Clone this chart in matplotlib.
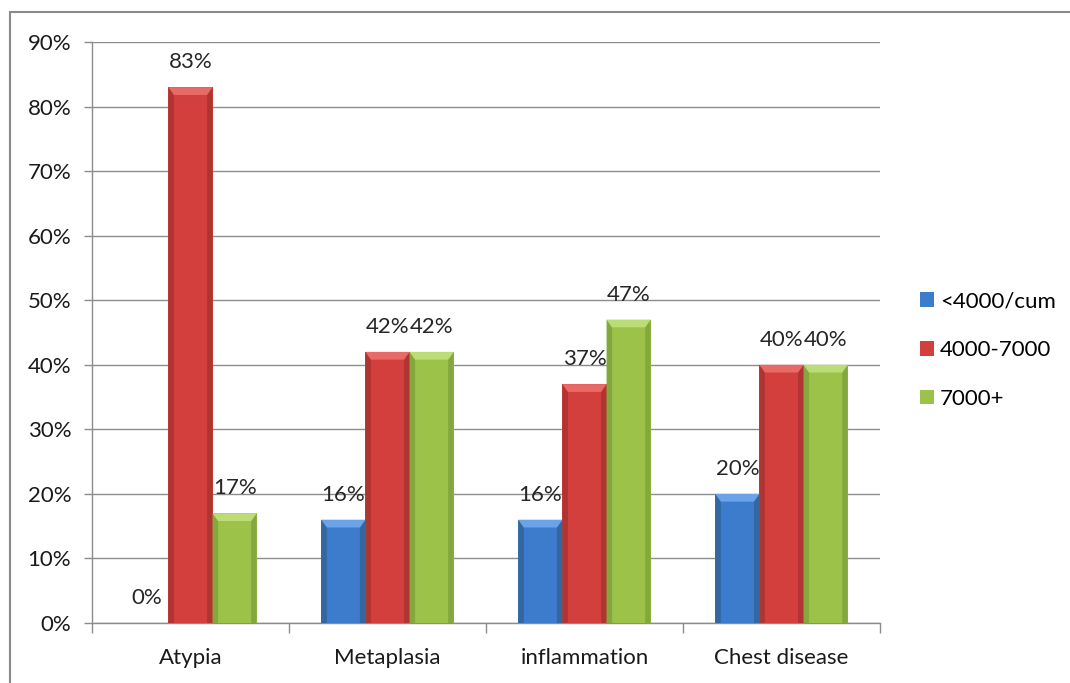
import numpy as np
import matplotlib.pyplot as plt
from matplotlib.patches import Polygon, Rectangle
from matplotlib.ticker import FixedLocator, FuncFormatter

############################################################
# Data: share of cases per count group for each finding (%)

categories = ['Atypia', 'Metaplasia', 'inflammation', 'Chest disease']
series_names = ['<4000/cum', '4000-7000', '7000+']
low_counts = [0, 16, 16, 20]
mid_counts = [83, 42, 37, 40]
high_counts = [17, 42, 47, 40]

############################################################
# Styling

plt.rcParams['font.family'] = ['Lato', 'DejaVu Sans']
face_colors = ['#3d7ccc', '#d23f3c', '#9cc24a']
side_colors = ['#33689f', '#b03532', '#84a83e']
top_colors = ['#6aa3e8', '#e86a66', '#bcdc78']
grid_col = '#8c8c8c'
fs = 16

fig = plt.figure(figsize=(10.7, 6.83), dpi=100)
ax = fig.add_axes([92 / 1070, 1 - 623 / 683, 788 / 1070, 581 / 683])

x = np.arange(len(categories))
width = 0.224
series = [low_counts, mid_counts, high_counts]

bx = 0.028  # bevel width in category units
by = 1.2    # bevel height in percent units

for i, vals in enumerate(series):
    pos = x + (i - 1) * width
    bars = ax.bar(pos, vals, width, color=face_colors[i], edgecolor='none',
                  label=series_names[i], zorder=3)
    for b, v in zip(bars, vals):
        x0 = b.get_x()
        w = b.get_width()
        h = b.get_height()
        if h > 0:
            # bevelled edges on each column
            ax.add_patch(Polygon([(x0, 0), (x0, h), (x0 + bx, h - by), (x0 + bx, 0)],
                                 closed=True, color=side_colors[i], lw=0, zorder=4))
            ax.add_patch(Polygon([(x0 + w, 0), (x0 + w, h), (x0 + w - bx, h - by), (x0 + w - bx, 0)],
                                 closed=True, color=side_colors[i], lw=0, zorder=4))
            ax.add_patch(Polygon([(x0, h), (x0 + w, h), (x0 + w - bx, h - by), (x0 + bx, h - by)],
                                 closed=True, color=top_colors[i], lw=0, zorder=4))
        ax.text(x0 + w / 2, h + 2.3, '%d%%' % v, ha='center', va='bottom',
                fontsize=fs, color='#262626', zorder=5)

ax.set_xlim(-0.5, len(categories) - 0.5)
ax.set_ylim(0, 90)
ax.set_yticks(np.arange(0, 91, 10))
ax.yaxis.set_major_formatter(FuncFormatter(lambda v, p: '%d%%' % v))
ax.yaxis.grid(True, color=grid_col, lw=1)
ax.set_axisbelow(True)

# category labels at centres, tick marks at the boundaries
ax.xaxis.set_major_locator(FixedLocator(np.arange(-0.5, len(categories), 1.0)))
ax.xaxis.set_minor_locator(FixedLocator(x))
ax.set_xticklabels([])
ax.set_xticklabels(categories, minor=True)
ax.tick_params(axis='x', which='major', length=7, color=grid_col, width=1)
ax.tick_params(axis='x', which='minor', length=0, pad=18, labelsize=fs, labelcolor='#1a1a1a')
ax.tick_params(axis='y', length=6, color=grid_col, width=1, pad=9,
               labelsize=fs, labelcolor='#1a1a1a')

for s in ['top', 'right']:
    ax.spines[s].set_visible(False)
for s in ['left', 'bottom']:
    ax.spines[s].set_color(grid_col)
    ax.spines[s].set_linewidth(1)

leg = fig.legend(loc='center left', bbox_to_anchor=(900 / 1070, 1 - 350 / 683),
                 frameon=False, fontsize=fs, handlelength=0.65, handleheight=0.65,
                 handletextpad=0.25, labelspacing=1.3)

# outer chart frame
fig.patches.append(Rectangle((10 / 1070, -0.05), 1.0, 1 - 12 / 683 + 0.05,
                             transform=fig.transFigure, fill=False,
                             edgecolor='#8a8a8a', lw=1.5))

fig.savefig('out.png', dpi=100)
